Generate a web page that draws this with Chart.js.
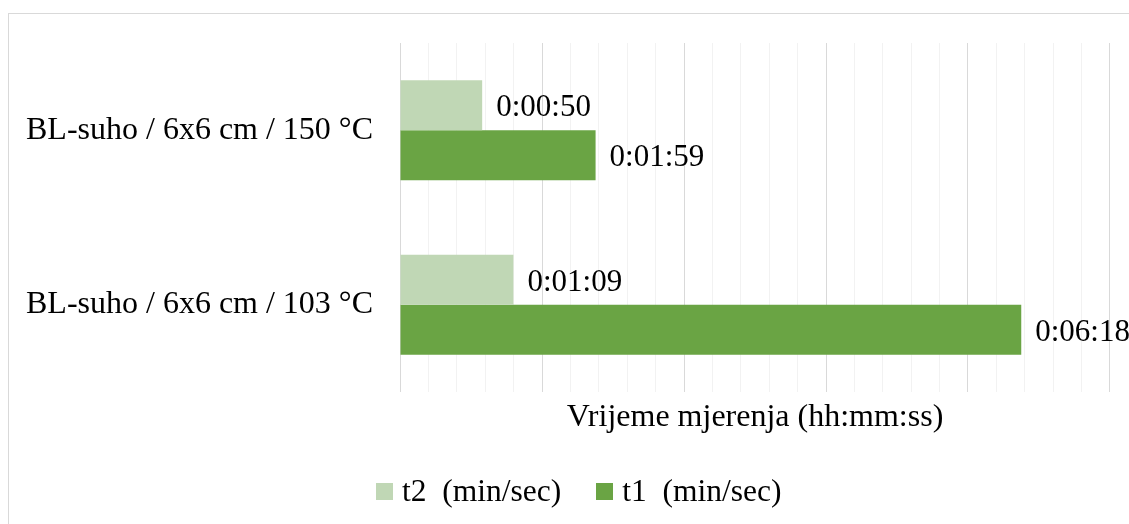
<!DOCTYPE html>
<html>
<head>
<meta charset="utf-8">
<script src="https://cdn.jsdelivr.net/npm/chart.js@4/dist/chart.umd.min.js"></script>
<style>
    html, body { margin: 0; padding: 0; background: #fff; overflow: hidden; }
    #frame {
        position: absolute; left: 8px; top: 13px;
        width: 1300px; height: 700px;
        border: 1px solid #d9d9d9;
    }
    #wrap { position: absolute; left: 0; top: 0; width: 1129px; height: 524px; }
    #legend {
        position: absolute; left: 376px; top: 473px; height: 36px;
        display: flex; align-items: center;
        font-family: 'Liberation Serif', 'Times New Roman', serif;
        font-size: 31.5px; color: #000; white-space: pre;
    }
    .item { display: flex; align-items: center; margin-right: 35px; }
    .box { width: 17px; height: 17px; margin-right: 9px; }
</style>
</head>
<body>
<div id="frame"></div>
<div id="wrap"><canvas id="chart"></canvas></div>
<div id="legend"></div>
<script>
const categories = ["BL-suho / 6x6 cm / 150 °C", "BL-suho / 6x6 cm / 103 °C"];
const seriesNames = ["t2  (min/sec)", "t1  (min/sec)"];
const seriesColors = ["#c0d7b5", "#6aa444"];
// durations in seconds
const t2Values = [50, 69];
const t1Values = [119, 378];

const X_MAX = 432;        // 0.005 day
const MINOR_STEP = 17.28; // 0.0002 day
const FONT = "'Liberation Serif', 'Times New Roman', serif";

function fmtTime(sec) {
    const h = Math.floor(sec / 3600);
    const m = Math.floor((sec % 3600) / 60);
    const s = Math.round(sec % 60);
    return h + ":" + String(m).padStart(2, "0") + ":" + String(s).padStart(2, "0");
}

const valueLabels = {
    id: "valueLabels",
    afterDatasetsDraw(chart) {
        const ctx = chart.ctx;
        ctx.save();
        ctx.font = "31px " + FONT;
        ctx.fillStyle = "#000";
        ctx.textBaseline = "middle";
        ctx.textAlign = "left";
        chart.data.datasets.forEach((ds, i) => {
            chart.getDatasetMeta(i).data.forEach((bar, j) => {
                ctx.fillText(fmtTime(ds.data[j]), bar.x + 14, bar.y + 3);
            });
        });
        ctx.restore();
    },
};

new Chart(document.getElementById("chart"), {
    type: "bar",
    data: {
        labels: categories,
        datasets: [
            { label: seriesNames[0], data: t2Values, backgroundColor: seriesColors[0] },
            { label: seriesNames[1], data: t1Values, backgroundColor: seriesColors[1] },
        ],
    },
    options: {
        indexAxis: "y",
        responsive: true,
        maintainAspectRatio: false,
        animation: false,
        events: [],
        datasets: { bar: { barPercentage: 1, categoryPercentage: 0.573 } },
        layout: { padding: { top: 43, right: 19, bottom: 82, left: 0 } },
        plugins: { legend: { display: false }, tooltip: { enabled: false } },
        scales: {
            x: {
                type: "linear",
                min: 0,
                max: X_MAX,
                afterBuildTicks(scale) {
                    const ticks = [];
                    for (let v = 0; v <= X_MAX + 0.001; v += MINOR_STEP) ticks.push({ value: v });
                    scale.ticks = ticks;
                },
                afterFit(scale) {
                    scale.height = 50;
                    scale.paddingLeft = 0;
                    scale.paddingRight = 0;
                },
                ticks: { display: false },
                grid: {
                    drawTicks: false,
                    lineWidth: 1,
                    color: (c) => (c.index % 5 === 0 ? "#d9d9d9" : "#f2f2f2"),
                },
                border: { display: false },
                title: {
                    display: true,
                    text: "Vrijeme mjerenja (hh:mm:ss)",
                    color: "#000",
                    font: { family: FONT, size: 32 },
                    padding: { top: 0, bottom: 5 },
                },
            },
            y: {
                afterFit(scale) {
                    scale.width = 400;
                    scale.paddingTop = 0;
                    scale.paddingBottom = 0;
                },
                grid: { display: false },
                border: { display: false },
                ticks: {
                    color: "#000",
                    padding: 19,
                    font: { family: FONT, size: 32 },
                },
            },
        },
    },
    plugins: [valueLabels],
});

// legend
const legendEl = document.getElementById("legend");
legendEl.innerHTML = seriesNames
    .map((n, i) => `<div class="item"><span class="box" style="background:${seriesColors[i]}"></span>${n}</div>`)
    .join("");
</script>
</body>
</html>
